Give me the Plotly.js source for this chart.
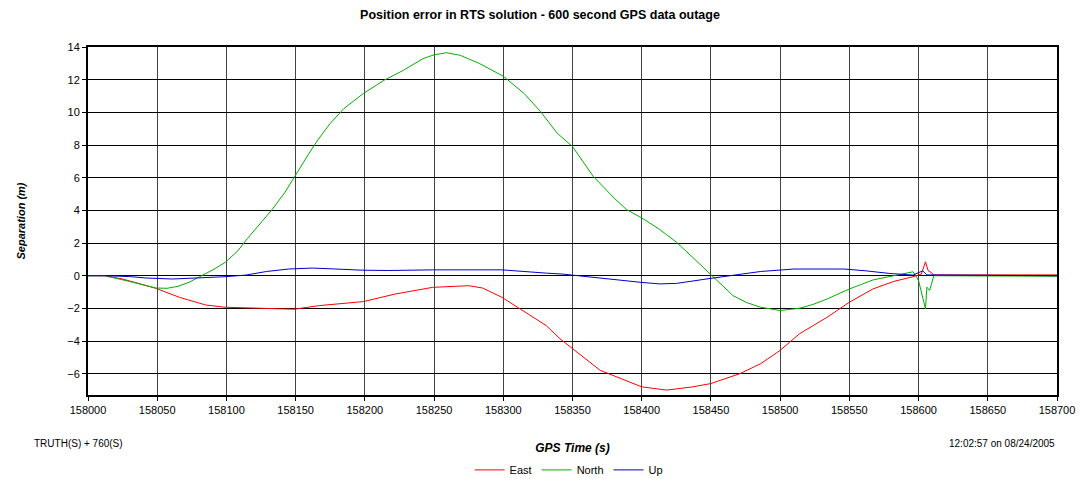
<!DOCTYPE html>
<html>
<head>
<meta charset="utf-8">
<script src="https://cdn.plot.ly/plotly-3.0.1.min.js"></script>
<style>
html,body{margin:0;padding:0;background:#fff;}
#chart{width:1080px;height:479px;}
</style>
</head>
<body>
<div id="chart"></div>
<script>
// GPS time (s) and separation (m) for each component
const eastTime = [158000,158012,158025,158049,158066,158085,158099,158119,158149,158167,158199,158222,158249,158275,158285,158299,158314,158331,158341,158350,158370,158400,158418,158437,158450,158471,158486,158500,158514,158534,158550,158567,158582,158596,158602,158605,158607,158609,158611,158700];
const eastVal  = [0,0,-0.2,-0.77,-1.32,-1.79,-1.93,-1.99,-2.05,-1.83,-1.58,-1.12,-0.71,-0.61,-0.75,-1.32,-2.13,-3.05,-3.86,-4.45,-5.79,-6.8,-7.0,-6.8,-6.6,-5.99,-5.38,-4.57,-3.55,-2.54,-1.62,-0.81,-0.35,-0.06,0.1,0.85,0.3,0.2,0.05,0.05];

const northTime = [158000,158012,158030,158049,158057,158065,158073,158081,158090,158099,158108,158115,158125,158133,158142,158150,158159,158166,158175,158185,158199,158214,158228,158242,158250,158259,158269,158283,158300,158315,158327,158339,158350,158365,158380,158389,158400,158413,158425,158437,158450,158458,158466,158476,158486,158500,158514,158524,158534,158550,158567,158582,158596,158598,158600,158605,158606,158608,158611,158700];
const northVal  = [0,0,-0.35,-0.75,-0.77,-0.65,-0.4,-0.06,0.35,0.81,1.5,2.26,3.24,4.05,5.07,6.18,7.4,8.31,9.33,10.24,11.16,11.97,12.58,13.29,13.52,13.65,13.49,12.98,12.21,11.16,10.04,8.72,7.91,6.08,4.76,4.05,3.54,2.83,2.06,1.11,0.05,-0.6,-1.22,-1.65,-1.93,-2.13,-1.99,-1.75,-1.42,-0.81,-0.26,0,0.24,0,-0.3,-2.03,-0.7,-0.9,0,-0.03];

const upTime = [158000,158012,158030,158042,158061,158080,158099,158114,158129,158145,158162,158179,158198,158217,158249,158299,158310,158331,158343,158365,158380,158400,158413,158425,158450,158466,158486,158510,158546,158562,158579,158596,158603,158606,158700];
const upVal  = [0,0,-0.05,-0.14,-0.2,-0.14,-0.06,0.04,0.26,0.41,0.47,0.41,0.34,0.32,0.36,0.36,0.28,0.16,0.1,-0.1,-0.26,-0.41,-0.5,-0.47,-0.16,0.04,0.26,0.41,0.41,0.3,0.14,0.04,0.3,0.05,0];

const seriesNames = ['East','North','Up'];
const seriesColors = ['#ff0000','#00b000','#0000c8'];

const FONT = 'Liberation Sans, Arial, sans-serif';

const traces = [
  {x: eastTime, y: eastVal},
  {x: northTime, y: northVal},
  {x: upTime, y: upVal}
].map((t, i) => ({
  type: 'scatter', mode: 'lines',
  x: t.x, y: t.y, name: seriesNames[i],
  line: {color: seriesColors[i], width: 1}
}));

const layout = {
  width: 1080, height: 479,
  paper_bgcolor: '#ffffff', plot_bgcolor: '#ffffff',
  margin: {l: 88, r: 23, t: 47, b: 84, pad: 0},
  title: {
    text: 'Position error in RTS solution - 600 second GPS data outage',
    font: {family: FONT, size: 12.5, color: '#000', weight: 'bold'},
    x: 0.5, xanchor: 'center', y: 0.969, yanchor: 'middle', yref: 'container', automargin: false
  },
  showlegend: true,
  legend: {
    orientation: 'h', x: 0.496, xanchor: 'center', xref: 'paper',
    y: 0.019, yanchor: 'middle', yref: 'container',
    font: {family: FONT, size: 11, color: '#000'},
    itemwidth: 30, bgcolor: 'rgba(0,0,0,0)'
  },
  xaxis: {
    automargin: false,
    range: [158000, 158700], tick0: 158000, dtick: 50, tickformat: 'd',
    showgrid: true, gridcolor: '#444', gridwidth: 1,
    zeroline: false,
    showline: true, linecolor: '#000', linewidth: 2, mirror: true,
    ticks: 'outside', ticklen: 4, tickcolor: '#000',
    tickfont: {family: FONT, size: 11, color: '#000'},
    title: {text: '<b><i>GPS Time (s)</i></b>', font: {family: FONT, size: 12, color: '#000'}, standoff: 38}
  },
  yaxis: {
    automargin: false,
    range: [-7.3, 14], tick0: 0, dtick: 2,
    showgrid: true, gridcolor: '#000', gridwidth: 1,
    zeroline: false,
    showline: true, linecolor: '#000', linewidth: 2, mirror: true,
    ticks: 'outside', ticklen: 4, tickcolor: '#000',
    tickfont: {family: FONT, size: 11, color: '#000'},
    title: {text: '<b><i>Separation (m)</i></b>', font: {family: FONT, size: 11, color: '#000'}, standoff: 39}
  },
  annotations: [
    {text: 'TRUTH(S) + 760(S)', xref: 'paper', yref: 'paper', x: -0.058, y: -0.138,
     xanchor: 'left', yanchor: 'middle', showarrow: false,
     font: {family: FONT, size: 10, color: '#000'}},
    {text: '12:02:57 on 08/24/2005', xref: 'paper', yref: 'paper', x: 1.0, y: -0.138,
     xanchor: 'right', yanchor: 'middle', showarrow: false,
     font: {family: FONT, size: 10, color: '#000'}}
  ]
};

Plotly.newPlot('chart', traces, layout, {displayModeBar: false, responsive: false});
</script>
</body>
</html>
